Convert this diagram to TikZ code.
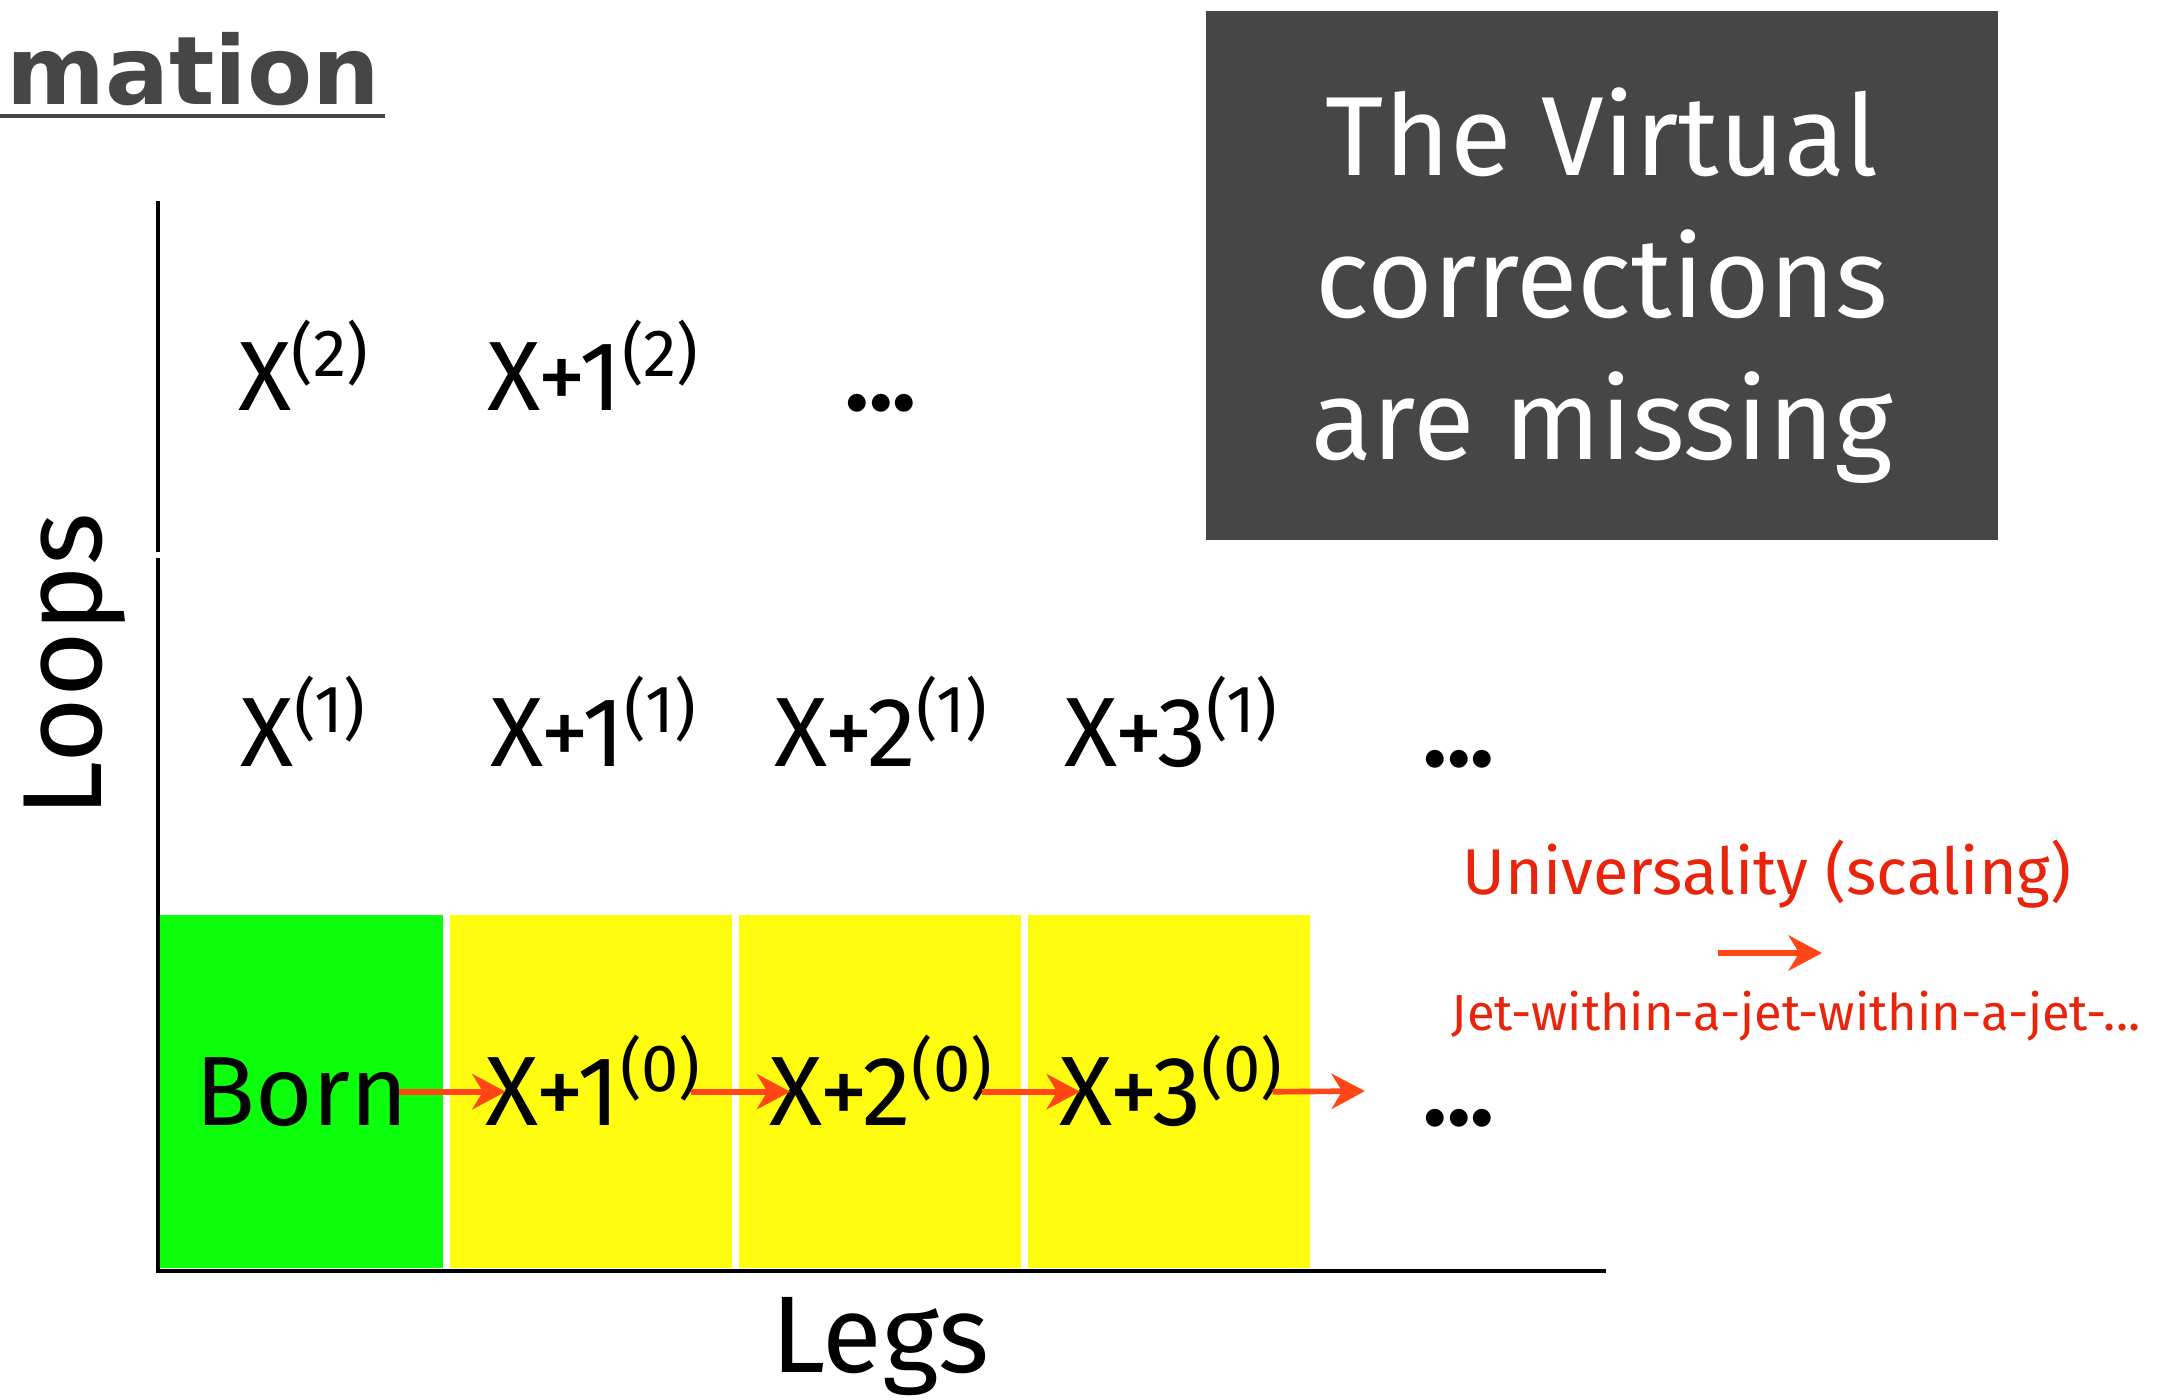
\documentclass[tikz,border=0pt]{standalone}
\usepackage{fontspec}
\setmainfont{Fira Sans}
\newfontfamily\handfont{DejaVu Sans}
\usepackage{xcolor}
\definecolor{slate}{RGB}{70,70,70}
\definecolor{lime}{RGB}{12,255,12}
\definecolor{lemon}{RGB}{255,252,15}
\definecolor{flame}{RGB}{255,70,20}
\definecolor{signal}{RGB}{232,36,12}
\usetikzlibrary{arrows.meta,positioning,calc}
\newcommand{\lps}[1]{\raisebox{9.5pt}{\fontsize{19}{19}\selectfont(#1)}}

\begin{document}
\begin{tikzpicture}[
  x=0.01cm,y=-0.01cm,
  cell/.style={rectangle,inner sep=0pt,minimum width=2.82cm,minimum height=3.53cm},
  lbl/.style={inner sep=0pt,anchor=base,font=\fontsize{28}{30}\selectfont},
  note/.style={rectangle,fill=slate,inner sep=0pt,minimum width=7.92cm,minimum height=5.29cm},
  msg/.style={inner sep=0pt,align=center,text=white,font=\fontsize{32}{40.4}\selectfont},
  red/.style={inner sep=0pt,anchor=base,text=signal},
  flow/.style={draw=flame,line width=1.6pt,-{Stealth[length=9.5pt,width=10pt,inset=3pt]}},
  legflow/.style={flow,shorten <=-3pt,shorten >=-6pt},
  axisline/.style={draw=black,line width=1.4pt},
]
  \useasboundingbox (0,0) rectangle (2173,1399);

  % title fragment
  \node[inner sep=0pt,anchor=base east,text=slate,font=\handfont\fontsize{27}{27}\selectfont\bfseries] (title) at (381,104) {mation};
  \draw[slate,line width=0.9pt] (0,116) -- (385,116);

  % tree-level cells
  \node[cell,fill=lime,minimum width=2.85cm] (c0) at (300.5,1091.5) {};
  \node[cell,fill=lemon] (c1) at (591,1091.5) {};
  \node[cell,fill=lemon] (c2) at (880,1091.5) {};
  \node[cell,fill=lemon] (c3) at (1169,1091.5) {};

  % axes
  \draw[axisline] (158,201) -- (158,552);
  \draw[axisline] (158,558) -- (158,1271);
  \draw[axisline] (156,1271) -- (1606,1271);
  \node[lbl,rotate=90] (loops) at (101,665) {\fontsize{32}{34}\selectfont Loops};
  \node[lbl] (legs) at (880,1372) {\fontsize{31}{33}\selectfont Legs};

  % two loops
  \node[lbl] (r2c1) at (303,410) {X\lps{2}};
  \node[lbl] (r2c2) at (593,410) {X+1\lps{2}};
  \node[lbl] (r2more) at (881,410) {\textbf{...}};

  % one loop
  \foreach \x/\t [count=\i] in {303/X,593/X+1,881/X+2,1171/X+3}
    \node[lbl] (r1c\i) at (\x,766) {\t\lps{1}};
  \node[lbl] (r1more) at (1459,766) {\textbf{...}};

  % tree level
  \node[lbl] (born) at (302,1125) {Born};
  \node[lbl] (x1z) at (593,1125) {X+1\lps{0}};
  \node[lbl] (x2z) at (881,1125) {X+2\lps{0}};
  \node[lbl] (x3z) at (1171,1125) {X+3\lps{0}};
  \node[lbl] (r0more) at (1459,1125) {\textbf{...}};
  \coordinate (x4z) at (1365,1091);

  \draw[legflow] (born.east) -- (born.east -| x1z.west);
  \draw[legflow] (x1z.east |- born.east) -- (x2z.west |- born.east);
  \draw[legflow] (x2z.east |- born.east) -- (x3z.west |- born.east);
  \draw[flow,shorten <=-3pt] (x3z.east |- born.east) -- (x4z);

  % missing virtuals
  \node[note] (box) at (1602,275.5) {};
  \node[msg] (miss) at (1602,286) {The Virtual\\corrections\\are missing};

  % universality
  \node[red,font=\fontsize{18.4}{20}\selectfont] (univ) at (1767,894) {Universality (scaling)};
  \coordinate (u1) at (1718,953);
  \coordinate (u2) at (1822,953);
  \draw[flow] (u1) -- (u2);
  \node[red,font=\fontsize{14.4}{16}\selectfont] (jets) at (1796,1030) {Jet-within-a-jet-within-a-jet-...};
\end{tikzpicture}
\end{document}
